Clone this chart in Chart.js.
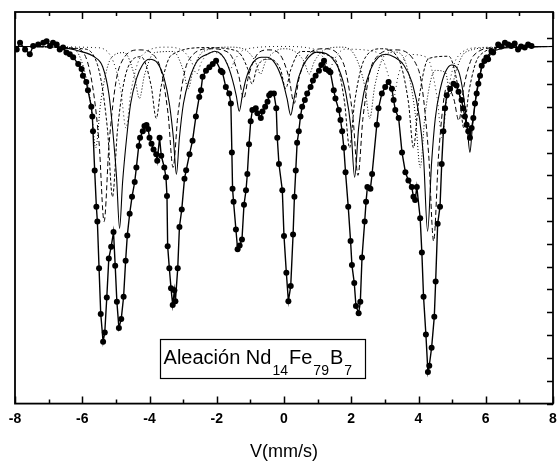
<!DOCTYPE html>
<html>
<head>
<meta charset="utf-8">
<script src="https://cdn.jsdelivr.net/npm/chart.js@4.4.1/dist/chart.umd.min.js"></script>
<style>
html,body{margin:0;padding:0;background:#fff;}
#wrap{width:557px;height:469px;}
</style>
</head>
<body>
<div id="wrap"><canvas id="c" width="557" height="469"></canvas></div>
<script>
// ---- data (velocity mm/s, relative transmission %) ----
const xTickLabels = [-8, -6, -4, -2, 0, 2, 4, 6, 8];
const xAxisTitle = 'V(mm/s)';
const sampleLabel = ['Aleación Nd', '14', 'Fe', '79', 'B', '7'];

const measured = [[-7.95,99.52],[-7.85,99.81],[-7.70,99.52],[-7.56,99.31],[-7.46,99.67],[-7.31,99.74],[-7.16,99.81],[-7.06,99.88],[-6.96,99.67],[-6.87,99.81],[-6.76,99.74],[-6.67,99.52],[-6.57,99.60],[-6.47,99.38],[-6.37,99.31],[-6.27,99.18],[-6.12,98.88],[-6.02,98.66],[-5.98,98.37],[-5.88,98.09],[-5.83,97.73],[-5.73,97.01],[-5.70,96.58],[-5.68,95.93],[-5.63,94.21],[-5.58,92.63],[-5.55,91.98],[-5.50,89.93],[-5.45,87.93],[-5.38,86.71],[-5.33,87.12],[-5.27,88.65],[-5.21,90.36],[-5.14,90.87],[-5.07,91.52],[-5.02,90.04],[-4.97,88.46],[-4.91,87.31],[-4.84,87.71],[-4.77,88.68],[-4.71,90.26],[-4.66,91.37],[-4.59,92.32],[-4.52,93.06],[-4.44,93.71],[-4.39,94.35],[-4.32,95.29],[-4.28,95.65],[-4.20,95.93],[-4.15,96.16],[-4.09,96.21],[-4.04,96.03],[-4.00,95.65],[-3.94,95.39],[-3.88,95.14],[-3.80,94.93],[-3.77,94.64],[-3.70,95.65],[-3.65,94.86],[-3.56,94.35],[-3.51,93.92],[-3.48,93.10],[-3.46,90.90],[-3.41,89.93],[-3.36,89.05],[-3.31,88.32],[-3.26,88.97],[-3.23,88.49],[-3.16,89.93],[-3.11,91.74],[-3.04,92.51],[-2.96,93.85],[-2.91,94.22],[-2.81,94.93],[-2.72,95.52],[-2.62,96.58],[-2.52,97.44],[-2.47,97.73],[-2.42,98.32],[-2.32,98.59],[-2.22,98.74],[-2.12,98.88],[-2.02,99.02],[-1.88,98.59],[-1.83,98.52],[-1.73,97.87],[-1.63,97.59],[-1.58,97.15],[-1.55,95.00],[-1.53,93.42],[-1.50,92.84],[-1.43,91.63],[-1.38,90.76],[-1.32,90.93],[-1.25,91.19],[-1.19,92.71],[-1.13,93.35],[-1.09,94.06],[-1.04,95.36],[-0.99,96.37],[-0.94,96.87],[-0.84,96.94],[-0.79,96.72],[-0.69,96.51],[-0.64,96.80],[-0.56,97.01],[-0.49,97.23],[-0.44,97.51],[-0.39,97.59],[-0.30,97.59],[-0.23,96.94],[-0.20,95.65],[-0.15,94.50],[-0.05,93.35],[0.00,91.34],[0.07,89.73],[0.13,88.49],[0.20,89.15],[0.27,91.41],[0.31,93.06],[0.35,94.21],[0.39,95.43],[0.44,95.93],[0.49,96.58],[0.54,97.01],[0.62,97.30],[0.69,97.59],[0.79,97.87],[0.86,98.16],[0.94,98.37],[1.04,98.59],[1.11,98.84],[1.19,99.02],[1.24,98.66],[1.33,98.59],[1.38,98.52],[1.48,97.73],[1.53,97.37],[1.63,96.87],[1.68,96.43],[1.73,95.93],[1.78,95.21],[1.83,94.14],[1.91,92.63],[1.98,91.12],[2.02,90.07],[2.09,89.28],[2.14,88.28],[2.22,87.96],[2.27,88.46],[2.32,90.40],[2.40,91.98],[2.44,92.84],[2.48,93.49],[2.57,93.42],[2.62,94.06],[2.76,96.22],[2.81,96.94],[2.91,97.59],[3.01,97.87],[3.11,98.09],[3.21,97.80],[3.26,97.30],[3.31,96.87],[3.41,96.51],[3.51,95.00],[3.61,94.14],[3.70,93.78],[3.80,93.49],[3.85,93.06],[3.90,92.92],[3.95,93.49],[4.05,92.12],[4.10,90.62],[4.15,88.68],[4.22,87.03],[4.28,85.38],[4.32,85.66],[4.39,86.45],[4.47,87.81],[4.51,89.35],[4.57,91.88],[4.64,92.63],[4.69,94.50],[4.74,95.93],[4.79,96.94],[4.84,97.51],[4.94,97.80],[5.04,98.02],[5.13,97.94],[5.19,97.66],[5.28,97.30],[5.33,96.94],[5.38,96.58],[5.43,96.22],[5.48,95.93],[5.53,95.65],[5.58,96.08],[5.63,96.51],[5.68,97.15],[5.73,97.59],[5.78,98.02],[5.83,98.37],[5.88,98.81],[5.96,99.01],[6.02,99.17],[6.07,99.09],[6.17,99.45],[6.22,99.38],[6.37,99.74],[6.46,99.65],[6.57,99.81],[6.67,99.74],[6.76,99.67],[6.86,99.78],[6.96,99.52],[7.05,99.65],[7.16,99.60],[7.26,99.74],[7.36,99.67]];

const subspectrumA = [[-8.00,99.65],[-6.67,99.61],[-6.07,99.44],[-5.63,99.18],[-5.39,98.75],[-5.21,97.59],[-5.10,96.08],[-4.98,93.92],[-4.89,91.68],[-4.80,93.71],[-4.68,95.65],[-4.56,97.15],[-4.39,98.23],[-4.21,98.84],[-4.00,99.09],[-3.76,98.92],[-3.56,98.23],[-3.41,97.15],[-3.29,95.65],[-3.20,94.05],[-3.11,95.65],[-2.99,97.15],[-2.81,98.23],[-2.58,99.01],[-2.22,99.35],[-2.07,99.44],[-1.87,99.31],[-1.69,98.88],[-1.54,98.23],[-1.42,97.50],[-1.33,96.81],[-1.24,97.50],[-1.13,98.23],[-0.95,98.88],[-0.68,99.18],[-0.50,99.18],[-0.27,98.92],[-0.06,98.23],[0.09,97.37],[0.20,96.64],[0.30,97.37],[0.44,98.32],[0.65,99.01],[0.98,99.40],[1.33,99.27],[1.63,98.66],[1.84,97.59],[1.99,96.08],[2.10,93.92],[2.22,96.08],[2.37,97.59],[2.58,98.66],[2.81,99.18],[3.02,99.31],[3.29,99.18],[3.56,98.84],[3.82,98.02],[4.03,96.51],[4.15,94.78],[4.27,91.55],[4.39,94.57],[4.50,96.51],[4.65,97.80],[4.80,98.53],[4.98,98.84],[5.19,98.58],[5.33,97.59],[5.45,96.08],[5.53,95.00],[5.60,96.08],[5.72,97.59],[5.87,98.66],[6.07,99.27],[6.37,99.52],[6.96,99.61],[8.00,99.65]];

const subspectrumB = [[-8.00,99.65],[-6.20,99.55],[-5.80,98.73],[-5.50,95.43],[-5.35,91.98],[-5.20,95.43],[-4.90,98.73],[-4.30,99.50],[-3.75,99.01],[-3.45,96.73],[-3.30,94.35],[-3.15,96.73],[-2.85,99.01],[-2.20,99.55],[-1.65,99.38],[-1.35,98.39],[-1.20,97.37],[-1.05,98.39],[-0.75,99.38],[-0.45,99.50],[-0.15,99.35],[0.15,98.27],[0.30,97.15],[0.45,98.27],[0.75,99.35],[1.20,99.55],[1.75,98.97],[2.05,96.54],[2.20,94.00],[2.35,96.54],[2.65,98.97],[3.30,99.50],[4.00,98.63],[4.30,94.96],[4.45,91.12],[4.60,94.96],[4.85,97.90],[5.05,97.35],[5.20,96.40],[5.35,97.90],[5.65,99.27],[6.30,99.60],[8.00,99.65]];

const subspectrumC = [[-8.00,99.65],[-6.00,99.55],[-5.55,98.86],[-5.25,96.02],[-5.10,93.06],[-4.95,96.02],[-4.65,98.70],[-4.25,99.20],[-3.95,97.92],[-3.80,96.50],[-3.65,97.92],[-3.35,99.27],[-2.30,99.60],[-1.40,99.45],[-1.10,98.75],[-0.95,98.01],[-0.80,98.75],[-0.45,99.10],[-0.10,98.63],[0.05,97.80],[0.20,98.63],[0.50,99.43],[1.50,99.12],[1.80,97.21],[1.95,95.21],[2.10,97.21],[2.40,99.12],[2.90,99.55],[3.40,99.12],[3.70,97.21],[3.85,95.21],[4.00,97.21],[4.30,99.12],[4.90,99.22],[5.20,97.68],[5.35,96.07],[5.50,97.68],[5.80,99.22],[6.50,99.60],[8.00,99.65]];

const subspectrumD = [[-8.00,99.65],[-6.40,99.60],[-6.05,99.12],[-5.75,97.21],[-5.60,95.21],[-5.45,97.21],[-5.15,99.12],[-4.75,99.38],[-4.45,98.39],[-4.30,97.37],[-4.15,98.39],[-3.85,99.38],[-3.30,99.43],[-3.00,98.63],[-2.85,97.80],[-2.70,98.63],[-2.40,99.43],[-1.60,99.62],[-1.15,99.50],[-0.85,98.98],[-0.70,98.44],[-0.55,98.98],[-0.25,99.45],[0.00,99.55],[0.30,99.45],[0.60,98.98],[0.75,98.44],[0.90,98.98],[1.20,99.50],[1.70,99.62],[2.10,99.27],[2.40,97.92],[2.55,96.50],[2.70,97.92],[3.00,99.27],[3.30,99.40],[3.60,99.01],[3.90,96.73],[4.05,94.35],[4.20,96.73],[4.50,98.60],[4.80,98.51],[4.95,97.58],[5.10,98.51],[5.40,99.40],[6.20,99.60],[8.00,99.65]];

const subspectrumE = [[-8.00,99.65],[-5.60,99.60],[-5.15,99.22],[-4.85,97.68],[-4.70,96.07],[-4.55,97.68],[-4.25,99.22],[-3.50,99.62],[-3.05,99.50],[-2.75,98.98],[-2.60,98.44],[-2.45,98.98],[-2.15,99.40],[-1.75,99.10],[-1.60,98.66],[-1.45,99.10],[-1.15,99.53],[0.00,99.65],[0.90,99.53],[1.20,99.10],[1.35,98.66],[1.50,99.10],[1.80,99.53],[2.80,99.38],[3.10,98.39],[3.25,97.37],[3.40,98.39],[3.70,99.30],[4.25,99.17],[4.55,97.44],[4.70,95.64],[4.85,97.44],[5.15,99.17],[5.80,99.60],[8.00,99.65]];

const yTickValues = [84,85,86,87,88,89,90,91,92,93,94,95,96,97,98,99,100];
const xTickValues = [-8,-7,-6,-5,-4,-3,-2,-1,0,1,2,3,4,5,6,7,8];
const labelBox = {x1:-3.70, x2:2.40, yTop:86.81, yBottom:85.09};

// ---- helpers ----
const pts = arr => arr.map(p => ({x:p[0], y:p[1]}));
const comp = (arr, dash, w) => ({
  data: pts(arr), showLine:true, pointRadius:0, borderColor:'#000',
  borderWidth:w, borderDash:dash, cubicInterpolationMode:'monotone', fill:false
});

const framePlugin = {
  id:'frame',
  afterDraw(chart){
    const ctx = chart.ctx, a = chart.chartArea;
    const xs = chart.scales.x, ys = chart.scales.y;
    ctx.save();
    ctx.strokeStyle = '#000';
    ctx.lineWidth = 1.8;
    ctx.strokeRect(a.left, a.top, a.right - a.left, a.bottom - a.top);
    ctx.lineWidth = 1.5;
    ctx.beginPath();
    xTickValues.forEach(v => {
      const px = Math.round(xs.getPixelForValue(v)) + 0.5;
      const len = (v % 2 === 0) ? 7 : 4;
      ctx.moveTo(px, a.bottom); ctx.lineTo(px, a.bottom - len);
      ctx.moveTo(px, a.top); ctx.lineTo(px, a.top + len);
    });
    yTickValues.forEach(v => {
      const py = Math.round(ys.getPixelForValue(v)) + 0.5;
      ctx.moveTo(a.right, py); ctx.lineTo(a.right - 6, py);
    });
    ctx.stroke();
    // sample label box
    const bx1 = xs.getPixelForValue(labelBox.x1), bx2 = xs.getPixelForValue(labelBox.x2);
    const by1 = ys.getPixelForValue(labelBox.yTop), by2 = ys.getPixelForValue(labelBox.yBottom);
    ctx.fillStyle = '#fff';
    ctx.fillRect(bx1, by1, bx2 - bx1, by2 - by1);
    ctx.lineWidth = 1.2;
    ctx.strokeRect(Math.round(bx1)+0.5, Math.round(by1)+0.5, Math.round(bx2-bx1), Math.round(by2-by1));
    ctx.fillStyle = '#000';
    ctx.textBaseline = 'alphabetic';
    ctx.textAlign = 'left';
    let tx = bx1 + 4;
    const base = by1 + 25;
    sampleLabel.forEach((t, i) => {
      const sub = (i % 2 === 1);
      ctx.font = sub ? '14px "Liberation Sans", Arial, sans-serif' : '20px "Liberation Sans", Arial, sans-serif';
      ctx.fillText(t, tx, sub ? base + 11 : base);
      tx += ctx.measureText(t).width + 1;
    });
    ctx.restore();
  }
};

new Chart(document.getElementById('c'), {
  type:'scatter',
  data:{
    datasets:[
      {data: pts(measured), showLine:true, borderColor:'#000', borderWidth:1.4,
       pointRadius:3, pointBackgroundColor:'#000', pointBorderColor:'#000', pointBorderWidth:0, tension:0},
      comp(subspectrumA, [], 1.1),
      comp(subspectrumB, [5,3], 1),
      comp(subspectrumC, [3,2], 1),
      comp(subspectrumD, [1,2], 1),
      comp(subspectrumE, [1,3], 0.9)
    ]
  },
  options:{
    responsive:false, animation:false, devicePixelRatio:1,
    layout:{padding:{left:15, right:2, top:12, bottom:6}},
    plugins:{legend:{display:false}, tooltip:{enabled:false}},
    scales:{
      x:{
        type:'linear', min:-8, max:8,
        grid:{display:false, drawTicks:false},
        border:{display:false},
        afterBuildTicks(s){ s.ticks = xTickLabels.map(v => ({value:v})); },
        afterFit(s){ s.paddingLeft = 0; s.paddingRight = 0; },
        ticks:{padding:7, color:'#000', font:{family:'"Liberation Sans", Arial, sans-serif', size:14, weight:'bold'}},
        title:{display:true, text:xAxisTitle, color:'#000', padding:{top:7, bottom:0},
          font:{family:'"Liberation Sans", Arial, sans-serif', size:18}}
      },
      y:{
        type:'linear', min:84.0, max:101.16, display:false
      }
    }
  },
  plugins:[framePlugin]
});
</script>
</body>
</html>
